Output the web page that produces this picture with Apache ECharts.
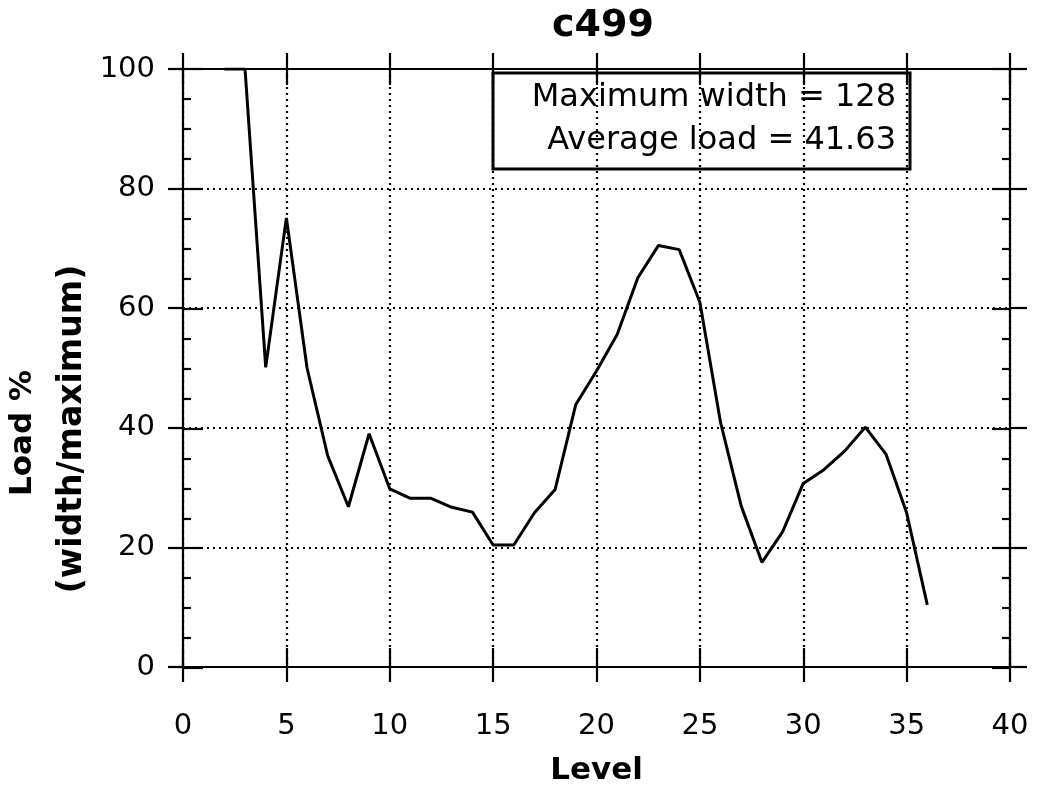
<!DOCTYPE html>
<html>
<head>
<meta charset="utf-8">
<script src="https://cdn.jsdelivr.net/npm/echarts@6/dist/echarts.min.js"></script>
<style>
  html, body { margin: 0; padding: 0; background: #fff; }
  #chart { width: 1041px; height: 791px; }
</style>
</head>
<body>
<div id="chart"></div>
<script>
  // level vs load
  const levels = [2, 3, 4, 5, 6, 7, 8, 9, 10, 11, 12, 13, 14, 15, 16, 17, 18, 19,
    20, 21, 22, 23, 24, 25, 26, 27, 28, 29, 30, 31, 32, 33, 34, 35, 36];
  const loads = [100, 100, 50.1, 75.1, 50, 35.3, 26.8, 39, 29.8, 28.2, 28.2, 26.7, 25.9, 20.4, 20.4,
    25.8, 29.7, 43.9, 49.5, 55.6, 65.1, 70.5, 69.8, 61, 40.9, 26.9, 17.5, 22.6,
    30.7, 33, 36.1, 40.1, 35.6, 25.8, 10.4];
  const xRange = [0, 40, 5];
  const yRange = [0, 100, 20];
  const infoLines = ['Maximum width = 128', 'Average load = 41.63'];

  let chart = echarts.init(document.getElementById('chart'));
  let font = 'DejaVu Sans';
  let black = { color: '#000', width: 2.2 };
  let dots = { color: '#000', width: 2.2, type: [2, 4] };

  // grid 0 holds the outward ticks, grid 1 (same box) the inward ones
  function xAx(grid, pos, inside, len, main) {
    return {
      gridIndex: grid,
      type: 'value', position: pos, min: xRange[0], max: xRange[1], interval: xRange[2],
      axisLine: { show: !inside, onZero: false, lineStyle: black },
      axisTick: { show: true, inside: inside, length: len, lineStyle: black },
      axisLabel: { show: main, margin: 45, color: '#000', fontFamily: font, fontSize: 29 },
      splitLine: { show: main, lineStyle: dots },
      name: main ? 'Level' : '',
      nameLocation: 'middle', nameGap: 88,
      nameTextStyle: { color: '#000', fontFamily: font, fontWeight: 'bold', fontSize: 31 }
    };
  }
  function yAx(grid, pos, inside, len, main) {
    return {
      gridIndex: grid,
      type: 'value', position: pos, min: yRange[0], max: yRange[1], interval: yRange[2],
      axisLine: { show: !inside, onZero: false, lineStyle: black },
      axisTick: { show: true, inside: inside, length: len, lineStyle: black },
      minorTick: { show: inside, splitNumber: 4, length: 8, lineStyle: black },
      axisLabel: { show: main, margin: 28, color: '#000', fontFamily: font, fontSize: 29 },
      splitLine: { show: main, lineStyle: dots }
    };
  }

  let box = { left: 183, right: 31, top: 69, bottom: 123 };

  let option = {
    animation: false,
    backgroundColor: '#fff',
    title: {
      text: 'c499',
      left: 598, top: 2, textAlign: 'center',
      textStyle: { color: '#000', fontFamily: font, fontWeight: 'bold', fontSize: 38 }
    },
    grid: [Object.assign({}, box), Object.assign({}, box)],
    xAxis: [
      xAx(0, 'bottom', false, 15, true),
      xAx(0, 'top', false, 16, false),
      xAx(1, 'bottom', true, 20, false),
      xAx(1, 'top', true, 16, false)
    ],
    yAxis: [
      yAx(0, 'left', false, 15, true),
      yAx(0, 'right', false, 17, false),
      yAx(1, 'left', true, 20, false),
      yAx(1, 'right', true, 18, false)
    ],
    graphic: [
      {
        type: 'text', x: 23, y: 433, rotation: Math.PI / 2,
        style: { text: 'Load %', fill: '#000', font: 'bold 31px ' + font, textAlign: 'center', textVerticalAlign: 'middle' }
      },
      {
        type: 'text', x: 72, y: 429, rotation: Math.PI / 2,
        style: { text: '(width/maximum)', fill: '#000', font: 'bold 33px ' + font, textAlign: 'center', textVerticalAlign: 'middle' }
      },
      {
        type: 'group', z: 100,
        children: [
          { type: 'rect', shape: { x: 493, y: 73, width: 417, height: 96 },
            style: { fill: '#fff', stroke: '#000', lineWidth: 3 } },
          { type: 'text', x: 896, y: 98,
            style: { text: infoLines[0], fill: '#000', font: '32px ' + font, textAlign: 'right', textVerticalAlign: 'middle' } },
          { type: 'text', x: 896, y: 141,
            style: { text: infoLines[1], fill: '#000', font: '32px ' + font, textAlign: 'right', textVerticalAlign: 'middle' } }
        ]
      }
    ],
    series: [
      {
        type: 'line',
        xAxisIndex: 0, yAxisIndex: 0,
        data: levels.map((l, i) => [l, loads[i]]),
        showSymbol: false,
        lineStyle: { color: '#000', width: 3 },
        z: 5
      }
    ]
  };
  chart.setOption(option);
</script>
</body>
</html>
